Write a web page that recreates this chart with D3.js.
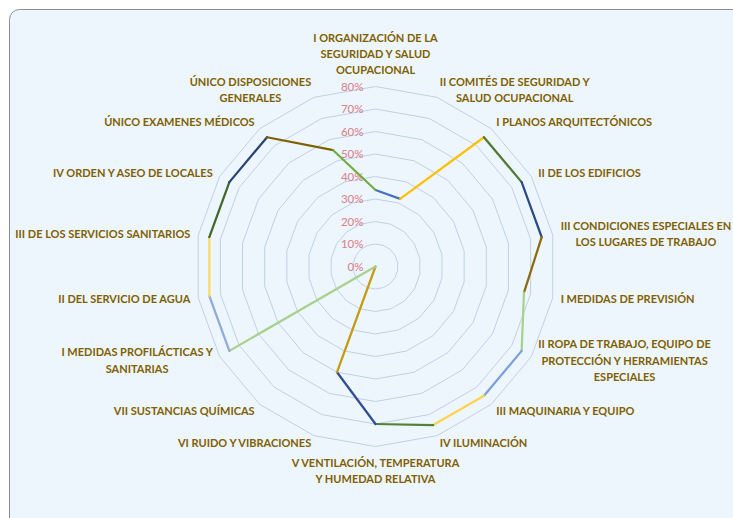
<!DOCTYPE html>
<html>
<head>
<meta charset="utf-8">
<script src="https://cdn.jsdelivr.net/npm/d3@7"></script>
<style>
  html, body { margin: 0; padding: 0; background: #ffffff; }
  svg { display: block; }
</style>
</head>
<body>
<svg id="chart" width="733" height="518"></svg>
<script>
// ---- data ----
const categories = [
  "I ORGANIZACIÓN DE LA\nSEGURIDAD Y SALUD\nOCUPACIONAL",
  "II COMITÉS DE SEGURIDAD Y\nSALUD OCUPACIONAL",
  "I PLANOS ARQUITECTÓNICOS",
  "II DE LOS EDIFICIOS",
  "III CONDICIONES ESPECIALES EN\nLOS LUGARES DE TRABAJO",
  "I MEDIDAS DE PREVISIÓN",
  "II ROPA DE TRABAJO, EQUIPO DE\nPROTECCIÓN Y HERRAMIENTAS\nESPECIALES",
  "III MAQUINARIA Y EQUIPO",
  "IV ILUMINACIÓN",
  "V VENTILACIÓN, TEMPERATURA\nY HUMEDAD RELATIVA",
  "VI RUIDO Y VIBRACIONES",
  "VII SUSTANCIAS QUÍMICAS",
  "I MEDIDAS PROFILÁCTICAS Y\nSANITARIAS",
  "II DEL SERVICIO DE AGUA",
  "III DE LOS SERVICIOS SANITARIOS",
  "IV ORDEN Y ASEO DE LOCALES",
  "ÚNICO EXAMENES MÉDICOS",
  "ÚNICO DISPOSICIONES\nGENERALES"
];
const values = [0.34, 0.32, 0.75, 0.75, 0.75, 0.67, 0.75, 0.75, 0.75, 0.70, 0.50, 0.00, 0.75, 0.75, 0.75, 0.75, 0.75, 0.55];
// colour of the line segment that ends at each point
const pointColors = [
  "#70AD47", "#4472C4", "#FFC000", "#4E7A32", "#2B4A86", "#8C6A12",
  "#A9D18E", "#7D9FDD", "#FFD34F", "#548235", "#2E4E96", "#C49A10",
  "#A9D18E", "#8FAADC", "#FFD966", "#43682B", "#264478", "#7F6000"
];
const tickValues = [0, 0.1, 0.2, 0.3, 0.4, 0.5, 0.6, 0.7, 0.8];
const tickLabels = ["0%", "10%", "20%", "30%", "40%", "50%", "60%", "70%", "80%"];

// ---- layout ----
const svg = d3.select("#chart");
const cx = 375.5, cy = 266.5, R = 180;
const n = categories.length;

svg.append("rect")
  .attr("x", 9.5).attr("y", 9.5)
  .attr("width", 760).attr("height", 540)
  .attr("rx", 10).attr("ry", 10)
  .attr("fill", "#EEF6FD")
  .attr("stroke", "#8C8C8C")
  .attr("stroke-width", 1);

const rScale = d3.scaleLinear().domain([0, 0.8]).range([0, R]);
const aScale = d3.scaleLinear().domain([0, n]).range([0, 2 * Math.PI]);

const g = svg.append("g").attr("transform", `translate(${cx},${cy})`);

// grid rings
const ringLine = d3.lineRadial()
  .angle((d, i) => aScale(i))
  .radius(d => rScale(d))
  .curve(d3.curveLinearClosed);

g.selectAll("path.ring")
  .data(tickValues.filter(t => t > 0))
  .join("path")
  .attr("class", "ring")
  .attr("d", t => ringLine(d3.range(n).map(() => t)))
  .attr("fill", "none")
  .attr("stroke", "#BFD0E5")
  .attr("stroke-width", 1);

// tick labels
g.selectAll("text.tick")
  .data(tickValues)
  .join("text")
  .attr("class", "tick")
  .attr("x", -12)
  .attr("y", t => -rScale(t) + 4)
  .attr("text-anchor", "end")
  .attr("font-family", "Lato, sans-serif")
  .attr("font-size", "11.5px")
  .attr("font-weight", "500")
  .attr("fill", "#DA848D")
  .text((t, i) => tickLabels[i]);

// data segments
const segLine = d3.lineRadial()
  .angle(d => aScale(d.i))
  .radius(d => rScale(d.v));

const segs = d3.range(n).map(i => {
  const j = (i + 1) % n;
  return { pts: [{ i: i, v: values[i] }, { i: i + 1, v: values[j] }], color: pointColors[j] };
});

g.selectAll("path.seg")
  .data(segs)
  .join("path")
  .attr("class", "seg")
  .attr("d", d => segLine(d.pts))
  .attr("fill", "none")
  .attr("stroke", d => d.color)
  .attr("stroke-width", 2.25)
  .attr("stroke-linecap", "round")
  .attr("stroke-linejoin", "round");

// category labels
const lineH = 16.3;
const labelR = R + 8;
categories.forEach((cat, i) => {
  const lines = cat.split("\n");
  const a = aScale(i);
  const ax = labelR * Math.sin(a), ay = -labelR * Math.cos(a);
  const t = g.append("text")
    .attr("font-family", "Lato, sans-serif")
    .attr("font-weight", "bold")
    .attr("font-size", "11px")
    .attr("fill", "#7F6000")
    .attr("text-anchor", "middle");
  const spans = lines.map(l => t.append("tspan").text(l));
  const widths = spans.map(s => s.node().getComputedTextLength());
  const w = d3.max(widths);
  const h = lines.length * lineH;
  const s = Math.sin(a), c = Math.cos(a);
  let left, top;
  if (Math.abs(s) < 0.05) {
    left = ax - w / 2;
    top = c > 0 ? ay - h : ay;
  } else {
    left = s > 0 ? ax : ax - w;
    top = ay - h / 2;
  }
  spans.forEach((sp, k) => {
    sp.attr("x", left + w / 2).attr("y", top + lineH / 2 + k * lineH + 4);
  });
});
</script>
</body>
</html>
